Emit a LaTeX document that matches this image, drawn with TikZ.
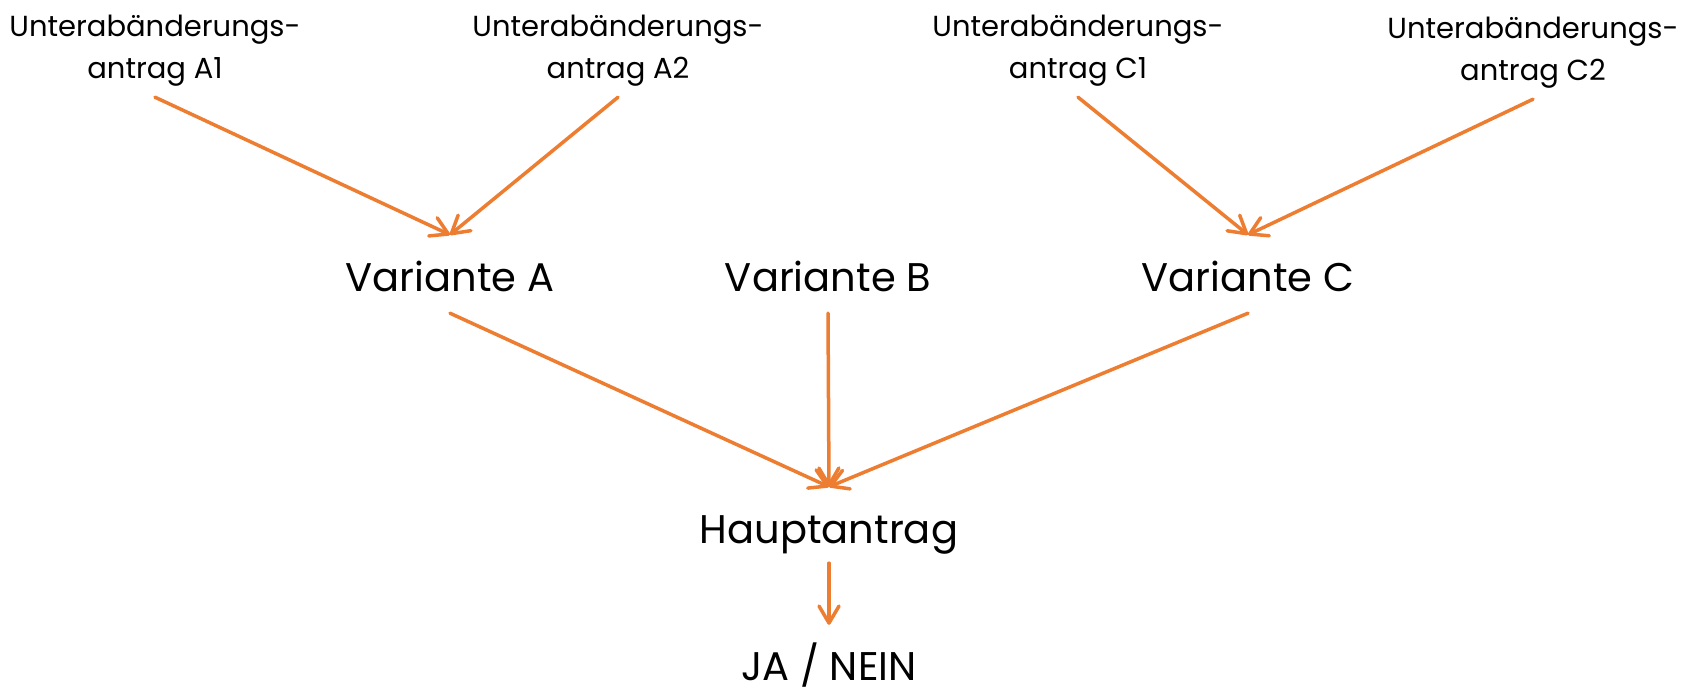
\documentclass[tikz,border=0pt]{standalone}
\usepackage{fontspec}
\setmainfont{Poppins}
\usetikzlibrary{arrows.meta}
\definecolor{arrorange}{HTML}{ED7D31}
\tikzset{
  toplabel/.style={inner sep=0pt, anchor=base, text height=24pt, text depth=61pt,
    font=\fontsize{29}{42}\selectfont},
  midlabel/.style={inner sep=0pt, anchor=base, text height=56pt, text depth=22pt,
    font=\fontsize{40}{48}\selectfont},
  arr/.style={draw=arrorange, line width=3.5pt, line cap=round,
    -{Straight Barb[length=17pt, width=20pt, line cap=round, line join=round]}}
}
\newcommand{\twolines}[2]{\begin{tabular}[t]{@{}c@{}}#1\\#2\end{tabular}}
\begin{document}
\begin{tikzpicture}[x=1pt, y=-1pt]
\useasboundingbox (0,0) rectangle (1699,691);
\node[toplabel] (a1) at (155,36) {\twolines{Unterabänderungs-}{antrag A1}};
\node[toplabel] (a2) at (618,36) {\twolines{Unterabänderungs-}{antrag A2}};
\node[toplabel] (c1) at (1078,36) {\twolines{Unterabänderungs-}{antrag C1}};
\node[toplabel, text depth=61pt] (c2) at (1533,38) {\twolines{Unterabänderungs-}{antrag C2}};
\node[midlabel] (va) at (450,291) {Variante A};
\node[midlabel] (vb) at (828,291) {Variante B};
\node[midlabel] (vc) at (1248,291) {Variante C};
\node[midlabel, text height=56pt, text depth=20pt] (h) at (829,543) {Hauptantrag};
\node[midlabel, text height=55pt, text depth=8pt] (ja) at (829,680) {JA / NEIN};
\draw[arr] (a1.south) -- (va.north);
\draw[arr] (a2.south) -- (va.north);
\draw[arr] (c1.south) -- (vc.north);
\draw[arr] (c2.south) -- (vc.north);
\draw[arr] (va.south) -- (h.north);
\draw[arr] (vb.south) -- (h.north);
\draw[arr] (vc.south) -- (h.north);
\draw[arr] (h.south) -- (ja.north);
\end{tikzpicture}
\end{document}
